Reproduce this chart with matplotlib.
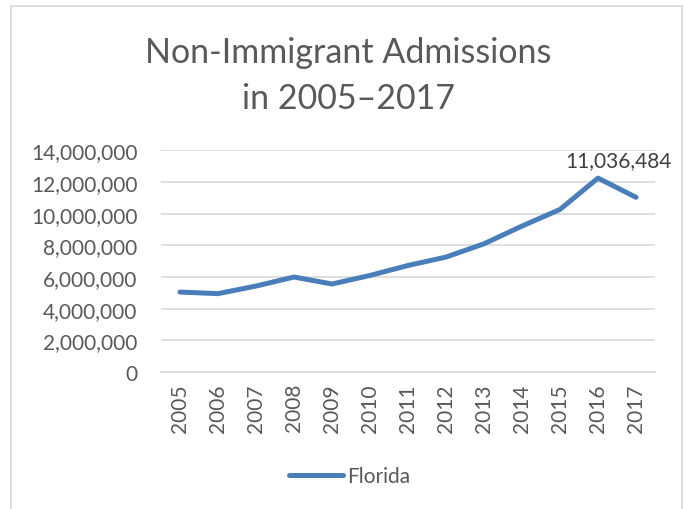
import matplotlib
matplotlib.use("Agg")
import matplotlib.pyplot as plt
from matplotlib.patches import Rectangle
from matplotlib.ticker import FuncFormatter

# Non-immigrant admissions, Florida, 2005-2017
years = ["2005", "2006", "2007", "2008", "2009", "2010", "2011",
         "2012", "2013", "2014", "2015", "2016", "2017"]
florida = [5050000, 4950000, 5430000, 6000000, 5560000, 6100000, 6730000,
           7260000, 8100000, 9220000, 10270000, 12250000, 11036484]
label_text = "11,036,484"

plt.rcParams["font.family"] = ["Lato", "DejaVu Sans"]
grey = "#595959"
blue = "#4a7ebb"

fig = plt.figure(figsize=(6.84, 5.10), dpi=100)
W, H = 684, 510

# chart border
fig.patches.append(Rectangle((11 / W, -0.1), (682 - 11) / W, 1.1 - 7 / H,
                             transform=fig.transFigure, fill=False,
                             edgecolor="#d9d9d9", lw=1.2))

ax = fig.add_axes([161 / W, 137 / H, (655 - 161) / W, (373.3 - 151.7) / H])
x = list(range(len(years)))
ax.plot(x, florida, color=blue, lw=3.6, solid_capstyle="round",
        solid_joinstyle="round", label="Florida", zorder=3)

ax.set_xlim(-0.5, len(years) - 0.5)
ax.set_ylim(0, 14000000)
ax.set_yticks(range(0, 14000001, 2000000))
ax.yaxis.set_major_formatter(FuncFormatter(lambda v, p: f"{int(v):,}"))
ax.set_xticks(x)
ax.set_xticklabels(years, rotation=90)
ax.grid(axis="y", color="#d9d9d9", lw=1.2)
ax.set_axisbelow(True)
for s in ["top", "right", "left"]:
    ax.spines[s].set_visible(False)
ax.spines["bottom"].set_color("#d9d9d9")
ax.spines["bottom"].set_linewidth(1.2)
ax.tick_params(axis="both", length=0, labelsize=15, colors=grey)
ax.tick_params(axis="y", pad=17)
ax.tick_params(axis="x", pad=8)

# data label
ax.annotate(label_text, xy=(11, florida[11]), xytext=(15, 6),
            textcoords="offset points", ha="center", va="bottom",
            fontsize=15, color="#404040")

fig.text(348 / W, 1 - 76 / H, "Non-Immigrant Admissions\nin 2005\u20132017",
         ha="center", va="center", fontsize=24.5, color=grey, linespacing=1.55)

leg = fig.legend(handles=ax.get_lines(), loc="center",
                 bbox_to_anchor=(350 / W, 1 - 477 / H), frameon=False,
                 fontsize=15, handlelength=2.6, handletextpad=0.2)
for t in leg.get_texts():
    t.set_color(grey)

fig.savefig("out.png", dpi=100)
